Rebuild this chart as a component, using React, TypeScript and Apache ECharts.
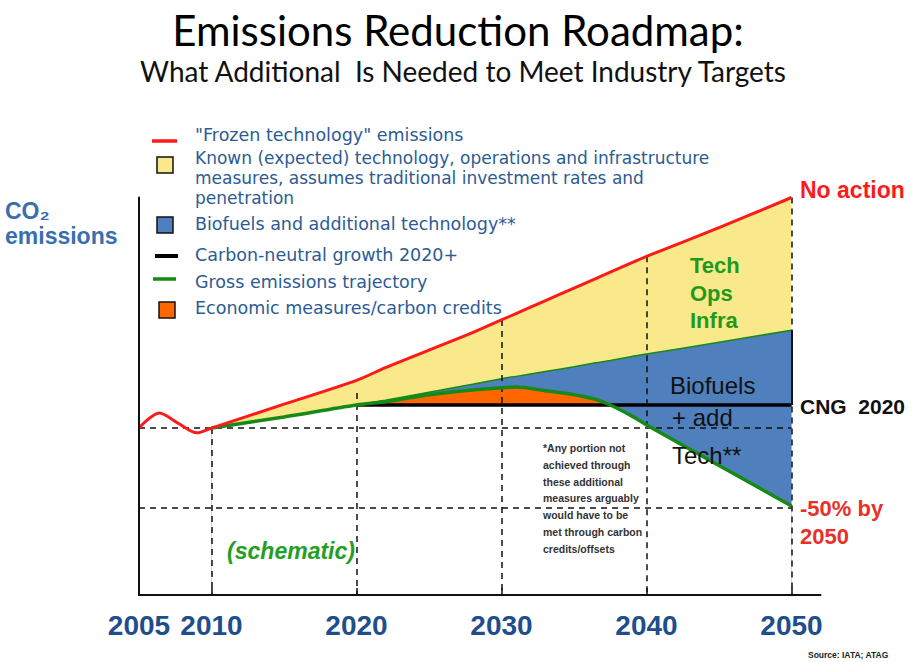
import React, { useEffect, useRef } from "react";
import * as echarts from "echarts";

// ---------- axis ticks / labels ----------
const tickYears = [2010, 2020, 2030, 2040, 2050];
const labelYears = [2005, 2010, 2020, 2030, 2040, 2050];

// ---------- 2005-2010 history (index, 2010 = 100) ----------
const historyYears = [2005, 2006.4, 2007.7, 2009];
const historyValues = [100, 109.5, 103, 97];

// ---------- scenario curves (index, 2010 = 100) ----------
const years = [2010, 2015, 2020, 2022, 2025, 2028, 2030, 2031, 2033, 2035, 2036.5, 2037.5, 2039, 2040, 2045, 2050];
const frozenTech = [100, 115, 130, 138, 149, 160, 168, 172, 180, 188, 194, 198, 204, 208, 226, 245];
const knownMeasures = [100, 107, 114.5, 117.5, 122.5, 127.5, 131, 132.5, 135.5, 138.5, 141, 142.5, 145, 146.5, 154, 161.5];
const grossTrajectory = [100, 107, 114.5, 116.5, 121, 124, 125.3, 125.8, 123.5, 121, 118, 114.5, 107.5, 102, 76.5, 51];

const cngYears = [2020, 2050];
const cngLevel = 114.5;
const economicRange = [2020, 2037.5];

// ---------- reference guides ----------
const baselineLevel = 100;
const halfLevel = 50;
const guideYears = [2010, 2020, 2030, 2040, 2050];
const guideTops = [100, 122, 168, 208, 245];

const Y_MIN = -5;
const Y_MAX = 245;
const X_MIN = 2005;
const X_MAX = 2052;

const RED = "#ff1a1a";
const YELLOW = "#f9e98a";
const BLUE = "#4f7fbc";
const ORANGE = "#ff6600";
const GREEN = "#168a16";
const LEG_BLUE = "#2c5b94";

const TITLE_FONT = "Lato, 'Open Sans', sans-serif";
const SANS = "'Liberation Sans', Arial, sans-serif";
const LEG_FONT = "'DejaVu Sans', sans-serif";

const SM = 0.3;

function pts(xs: number[], ys: number[]) {
  return xs.map((x, i) => [x, ys[i]]);
}

function txt(x: number, y: number, text: string, s: any) {
  const align = s.align || "left";
  const va = s.verticalAlign || "middle";
  return {
    type: "text",
    x,
    y,
    silent: true,
    z: 20,
    style: { text, align, textAlign: align, verticalAlign: va, textVerticalAlign: va, ...s },
  };
}

function areaSeries(name: string, data: number[][], color: string) {
  return {
    type: "line",
    name,
    data,
    smooth: SM,
    symbol: "none",
    lineStyle: { width: 0, opacity: 0 },
    areaStyle: { color, opacity: 1, origin: "start" },
    silent: true,
    z: 2,
  };
}

function buildOption() {
  const econIdx = years
    .map((y, i) => i)
    .filter((i) => years[i] >= economicRange[0] && years[i] <= economicRange[1]);

  // lower edge of the coloured wedges: gross trajectory, but never above CNG level from 2020
  const lowerEdge = years.map((y, i) => [
    y,
    y >= cngYears[0] ? Math.min(grossTrajectory[i], cngLevel) : grossTrajectory[i],
  ]);

  const markLines: any[] = [
    [{ coord: [X_MIN, baselineLevel] }, { coord: [2050, baselineLevel] }],
    [{ coord: [X_MIN, halfLevel] }, { coord: [2050, halfLevel] }],
    ...guideYears.map((y, i) => [{ coord: [y, guideTops[i]] }, { coord: [y, Y_MIN] }]),
    [
      { coord: [2050, cngLevel], lineStyle: { type: "solid", width: 2, color: "#111" } },
      { coord: [2050, knownMeasures[knownMeasures.length - 1]] },
    ],
  ];

  const legendX = 195;
  const legendText = { fontSize: 17.5, fontFamily: LEG_FONT, fill: LEG_BLUE };
  const legendSmall = { fontSize: 17, fontFamily: LEG_FONT, fill: LEG_BLUE };

  return {
    animation: false,
    backgroundColor: "#ffffff",
    grid: { left: 139, right: 94.5, top: 197.5, bottom: 67, containLabel: false },
    xAxis: {
      type: "value",
      min: X_MIN,
      max: X_MAX,
      z: 10,
      splitLine: { show: false },
      axisLine: { show: true, onZero: false, lineStyle: { color: "#111", width: 2 } },
      axisTick: {
        show: true,
        inside: true,
        length: 7,
        customValues: tickYears,
        lineStyle: { color: "#111", width: 1.5 },
      },
      axisLabel: {
        customValues: labelYears,
        showMinLabel: true,
        margin: 16,
        color: "#1f4e8c",
        fontSize: 28,
        fontWeight: "bold",
        fontFamily: SANS,
        formatter: (v: number) => String(Math.round(v)),
      },
    },
    yAxis: {
      type: "value",
      min: Y_MIN,
      max: Y_MAX,
      z: 10,
      splitLine: { show: false },
      axisLine: { show: true, onZero: false, lineStyle: { color: "#111", width: 2 } },
      axisTick: { show: false },
      axisLabel: { show: false },
    },
    series: [
      areaSeries("Known (expected) technology, operations and infrastructure measures", pts(years, frozenTech), YELLOW),
      areaSeries("Biofuels and additional technology**", pts(years, knownMeasures), BLUE),
      areaSeries(
        "Economic measures/carbon credits",
        econIdx.map((i) => [years[i], grossTrajectory[i]]),
        ORANGE
      ),
      areaSeries("below trajectory", lowerEdge, "#ffffff"),
      {
        type: "line",
        name: "Known measures boundary",
        data: pts(years, knownMeasures),
        smooth: SM,
        symbol: "none",
        lineStyle: { color: GREEN, width: 1.5 },
        silent: true,
        z: 3,
      },
      {
        type: "line",
        name: "Carbon-neutral growth 2020+",
        data: cngYears.map((y) => [y, cngLevel]),
        symbol: "none",
        lineStyle: { color: "#000", width: 3.5 },
        silent: true,
        z: 4,
      },
      {
        type: "line",
        name: "Gross emissions trajectory",
        data: pts(years, grossTrajectory),
        smooth: SM,
        symbol: "none",
        lineStyle: { color: GREEN, width: 3.5 },
        silent: true,
        z: 5,
      },
      {
        type: "line",
        name: '"Frozen technology" emissions',
        data: [...pts(historyYears, historyValues), ...pts(years, frozenTech)],
        smooth: SM,
        symbol: "none",
        lineStyle: { color: RED, width: 3 },
        silent: true,
        z: 5,
      },
      {
        type: "line",
        name: "guides",
        data: [],
        silent: true,
        z: 6,
        markLine: {
          silent: true,
          symbol: ["none", "none"],
          label: { show: false },
          lineStyle: { color: "#111", width: 1.5, type: [6, 5] },
          data: markLines,
        },
      },
    ],
    graphic: {
      elements: [
        // titles
        txt(458, 30, "Emissions Reduction Roadmap:", {
          align: "center",
          fontSize: 42,
          fontFamily: TITLE_FONT,
          fill: "#000",
        }),
        txt(463, 71, "What Additional  Is Needed to Meet Industry Targets", {
          align: "center",
          fontSize: 28,
          fontFamily: TITLE_FONT,
          fill: "#111",
        }),
        // y axis name
        txt(5, 198, "CO\u2082\nemissions", {
          verticalAlign: "top",
          fontSize: 23,
          lineHeight: 25,
          fontWeight: "bold",
          fontFamily: SANS,
          fill: "#3a6fad",
        }),
        // legend markers
        { type: "line", silent: true, z: 20, shape: { x1: 152, y1: 141, x2: 177, y2: 141 }, style: { stroke: RED, lineWidth: 3.5 } },
        { type: "rect", silent: true, z: 20, shape: { x: 157, y: 157, width: 16, height: 16 }, style: { fill: YELLOW, stroke: "#111", lineWidth: 1.5 } },
        { type: "rect", silent: true, z: 20, shape: { x: 157, y: 217, width: 16, height: 16 }, style: { fill: BLUE, stroke: "#111", lineWidth: 1.5 } },
        { type: "line", silent: true, z: 20, shape: { x1: 155, y1: 256, x2: 178, y2: 256 }, style: { stroke: "#000", lineWidth: 4 } },
        { type: "line", silent: true, z: 20, shape: { x1: 153, y1: 279, x2: 176, y2: 279 }, style: { stroke: GREEN, lineWidth: 3.5 } },
        { type: "rect", silent: true, z: 20, shape: { x: 159, y: 302, width: 16, height: 16 }, style: { fill: ORANGE, stroke: "#111", lineWidth: 1.5 } },
        // legend texts
        txt(legendX, 135, '"Frozen technology" emissions', legendText),
        txt(legendX, 158, "Known (expected) technology, operations and infrastructure", legendSmall),
        txt(legendX, 178, "measures, assumes traditional investment rates and", legendSmall),
        txt(legendX, 198, "penetration", legendSmall),
        txt(legendX, 224, "Biofuels and additional technology**", legendText),
        txt(legendX, 255, "Carbon-neutral growth 2020+", legendText),
        txt(legendX, 282, "Gross emissions trajectory", legendText),
        txt(legendX, 308, "Economic measures/carbon credits", legendText),
        // right annotations
        txt(800, 190, "No action", { fontSize: 23, fontWeight: "bold", fontFamily: SANS, fill: RED }),
        txt(800, 406, "CNG  2020", { fontSize: 21, fontWeight: "bold", fontFamily: SANS, fill: "#111" }),
        txt(800, 494, "-50% by\n2050", {
          fontSize: 22,
          fontWeight: "bold",
          fontFamily: SANS,
          fill: "#e8312a",
          verticalAlign: "top",
          lineHeight: 28,
        }),
        txt(690, 252, "Tech\nOps\nInfra", {
          verticalAlign: "top",
          fontSize: 22,
          lineHeight: 27.5,
          fontWeight: "bold",
          fontFamily: SANS,
          fill: "#1e9a1e",
        }),
        txt(670, 385, "Biofuels", { fontSize: 24, fontFamily: SANS, fill: "#111" }),
        txt(672, 417, "+ add", { fontSize: 24, fontFamily: SANS, fill: "#111" }),
        txt(672, 455, "Tech**", { fontSize: 24, fontFamily: SANS, fill: "#111" }),
        txt(291, 551, "(schematic)", {
          align: "center",
          fontSize: 23,
          fontWeight: "bold",
          fontStyle: "italic",
          fontFamily: SANS,
          fill: "#23a023",
        }),
        txt(
          543,
          440,
          "*Any portion not\nachieved through\nthese additional\nmeasures arguably\nwould have to be\nmet through carbon\ncredits/offsets",
          {
            verticalAlign: "top",
            fontSize: 10.5,
            lineHeight: 16.7,
            fontWeight: "bold",
            fontFamily: SANS,
            fill: "#333",
          }
        ),
        txt(808, 655, "Source: IATA; ATAG", {
          fontSize: 8.5,
          fontWeight: "bold",
          fontFamily: SANS,
          fill: "#222",
        }),
      ],
    },
  };
}

export default function App() {
  const ref = useRef<HTMLDivElement>(null);
  useEffect(() => {
    document.body.style.margin = "0";
    if (!ref.current) return;
    const chart = echarts.init(ref.current, null, { renderer: "svg" });
    chart.setOption(buildOption() as any);
    return () => chart.dispose();
  }, []);
  return <div ref={ref} style={{ width: 915, height: 662 }} />;
}
